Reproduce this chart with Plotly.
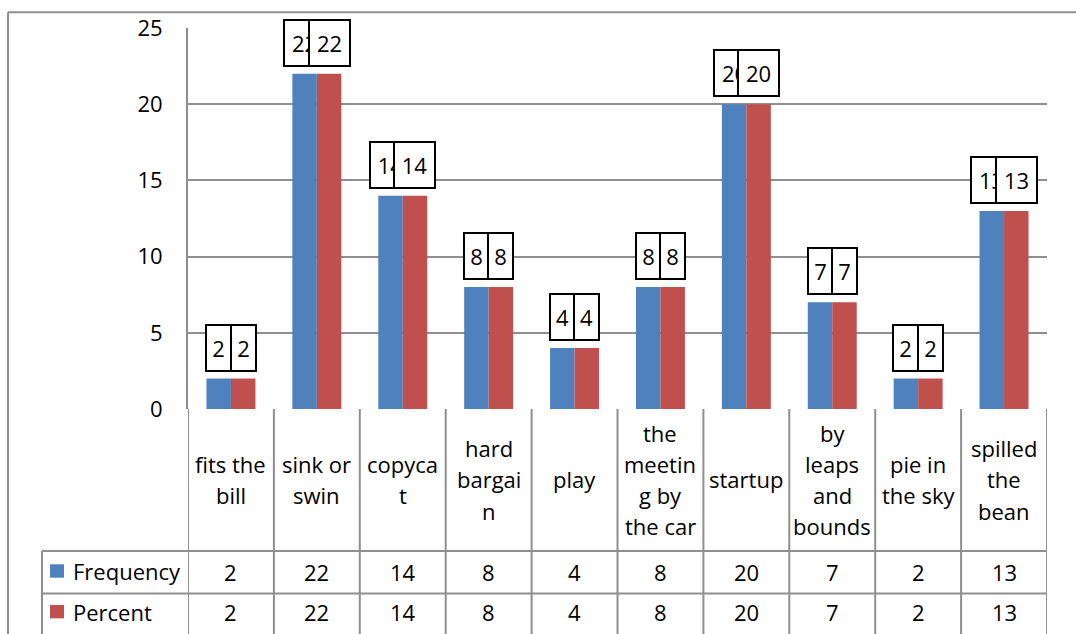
import plotly.graph_objects as go

# ---- data ----
categories = ["fits the bill", "sink or swin", "copycat", "hard bargain", "play",
              "the meeting by the car", "startup", "by leaps and bounds",
              "pie in the sky", "spilled the bean"]
category_lines = [["fits the", "bill"], ["sink or", "swin"], ["copyca", "t"],
                  ["hard", "bargai", "n"], ["play"], ["the", "meetin", "g by", "the car"],
                  ["startup"], ["by", "leaps", "and", "bounds"], ["pie in", "the sky"],
                  ["spilled", "the", "bean"]]
frequency = [2, 22, 14, 8, 4, 8, 20, 7, 2, 13]
percent = [2, 22, 14, 8, 4, 8, 20, 7, 2, 13]
y_ticks = [0, 5, 10, 15, 20, 25]

# ---- geometry / style ----
W, H = 1076, 634
PL, PR, PT, PB = 188, 1047, 25, 409
FONT = "Open Sans"
FS = 22
GRID = "#8f8f8f"
BLUE, RED = "#4F81BD", "#C0504D"
BARGAP = 0.43


def px(x):
    return (x - PL) / (PR - PL)


def py(y):
    return (PB - y) / (PB - PT)


fig = go.Figure()
fig.add_trace(go.Bar(x=categories, y=frequency, name="Frequency",
                     marker=dict(color=BLUE, line=dict(width=0))))
fig.add_trace(go.Bar(x=categories, y=percent, name="Percent",
                     marker=dict(color=RED, line=dict(width=0))))

cat_w = (PR - PL) / len(categories)
half_bar = (1 - BARGAP) * cat_w / 4

annotations = []
shapes = []

# boxed value labels above each bar
for series, shift in ((frequency, -half_bar), (percent, half_bar)):
    for c, v in zip(categories, series):
        annotations.append(dict(
            x=c, y=v, xref="x", yref="y", text=str(v), showarrow=False,
            xshift=shift, yshift=7, xanchor="center", yanchor="bottom",
            width=21 if v < 10 else 37, height=42,
            bordercolor="black", borderwidth=2, borderpad=1, bgcolor="white",
            font=dict(family=FONT, size=FS, color="black")))

# data table: category header row
LINE_H = 31.5
for c, lines in zip(categories, category_lines):
    n = len(lines)
    for j, t in enumerate(lines):
        yc = 480 + (j - (n - 1) / 2) * LINE_H
        annotations.append(dict(x=c, y=py(yc), xref="x", yref="paper", text=t,
                                showarrow=False, xanchor="center", yanchor="middle",
                                font=dict(family=FONT, size=FS, color="black")))

# data table: value rows
for series, yc in ((frequency, 573), (percent, 614)):
    for c, v in zip(categories, series):
        annotations.append(dict(x=c, y=py(yc), xref="x", yref="paper", text=str(v),
                                showarrow=False, xanchor="center", yanchor="middle",
                                font=dict(family=FONT, size=FS, color="black")))

# legend keys inside the table
for name, color, yc in (("Frequency", BLUE, 572.5), ("Percent", RED, 613.5)):
    shapes.append(dict(type="rect", xref="paper", yref="paper",
                       x0=px(50), x1=px(64), y0=py(yc - 7), y1=py(yc + 6.5),
                       fillcolor=color, line=dict(width=0)))
    annotations.append(dict(x=px(71), y=py(yc), xref="paper", yref="paper", text=name,
                            showarrow=False, xanchor="left", yanchor="middle",
                            font=dict(family=FONT, size=FS, color="black")))

line_style = dict(color=GRID, width=2)
# vertical table rules
for i in range(len(categories) + 1):
    shapes.append(dict(type="line", xref="x", yref="paper", x0=i - 0.5, x1=i - 0.5,
                       y0=0, y1=py(H + 5), line=line_style))
# horizontal table rules
for yy in (552, 595):
    shapes.append(dict(type="line", xref="paper", yref="paper", x0=px(42), x1=1,
                       y0=py(yy), y1=py(yy), line=line_style))
# legend column left rule
shapes.append(dict(type="line", xref="paper", yref="paper", x0=px(42), x1=px(42),
                   y0=py(552), y1=py(H + 5), line=line_style))
# chart area border
shapes.append(dict(type="line", xref="paper", yref="paper", x0=px(8), x1=px(8),
                   y0=py(9), y1=py(H + 5), line=line_style))
shapes.append(dict(type="line", xref="paper", yref="paper", x0=px(8), x1=px(W + 5),
                   y0=py(9), y1=py(9), line=line_style))

fig.update_layout(
    width=W, height=H, autosize=False,
    margin=dict(l=PL, r=W - PR, t=PT, b=H - PB, pad=0),
    paper_bgcolor="white", plot_bgcolor="white",
    barmode="group", bargap=BARGAP, bargroupgap=0,
    showlegend=False,
    font=dict(family=FONT, size=FS, color="black"),
    xaxis=dict(type="category", range=[-0.5, len(categories) - 0.5],
               showticklabels=False, showgrid=False, zeroline=False,
               showline=False, ticks=""),
    yaxis=dict(range=[0, 25], tickvals=y_ticks, ticktext=[str(t) for t in y_ticks],
               showgrid=True, gridcolor=GRID, gridwidth=2, zeroline=False,
               showline=True, linecolor=GRID, linewidth=2, ticks="",
               ticklabelstandoff=19,
               tickfont=dict(family=FONT, size=FS, color="black")),
    annotations=annotations,
    shapes=shapes,
)

fig.write_html("out.html")
